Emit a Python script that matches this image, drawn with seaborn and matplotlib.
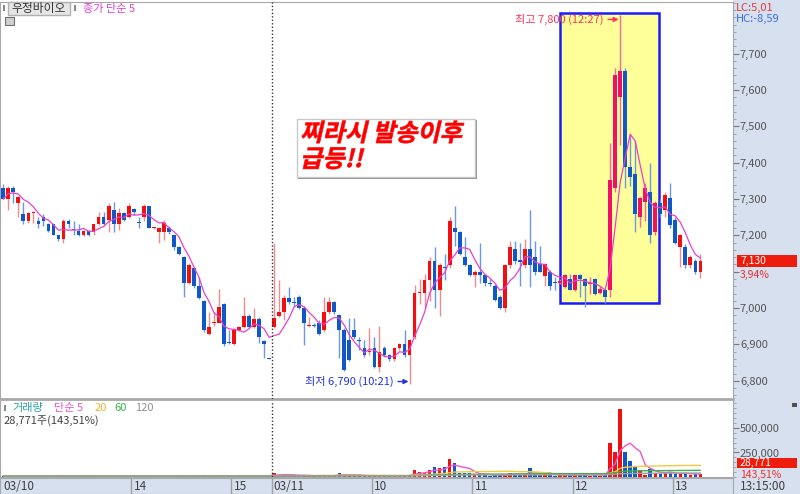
import numpy as np
import pandas as pd
import seaborn as sns
import matplotlib.pyplot as plt
from matplotlib.patches import Rectangle, PathPatch
from matplotlib.textpath import TextPath
from matplotlib.font_manager import FontProperties
from matplotlib.transforms import Affine2D, blended_transform_factory
from matplotlib.ticker import MultipleLocator, FuncFormatter

sns.set_style("white")
plt.rcParams['font.family'] = ['Noto Sans CJK KR', 'DejaVu Sans']

W, H = 800, 494

# 3-minute candles, 03/10 12:42 -> 03/11 13:15
opens = [7330, 7300, 7330, 7290, 7260, 7240, 7262, 7240, 7250, 7230,
         7230, 7200, 7190, 7240, 7218, 7212, 7200, 7212, 7210, 7230,
         7250, 7242, 7270, 7232, 7262, 7250, 7272, 7235, 7250, 7280,
         7220, 7210, 7210, 7220, 7200, 7168, 7140, 7070, 7110, 7060,
         7020, 6928, 6958, 6960, 7011, 6905, 6900, 6940, 6948, 6978,
         6948, 6970, 6910, 6862,
         6948, 6978, 6989, 7028, 7016, 7030, 7000, 6950, 6952, 6959,
         6940, 6989, 7016, 6980, 6940, 6912, 6940, 6912, 6890, 6878,
         6890, 6838, 6890, 6870, 6860, 6890, 6900, 6870, 6920, 7041,
         7041, 7077, 7130, 7050, 7112, 7118, 7220, 7210, 7140, 7118,
         7090, 7100, 7090, 7068, 7060, 7030, 7000, 7118, 7162, 7130,
         7118, 7162, 7140, 7120, 7088, 7100, 7072, 7070, 7058, 7080,
         7050, 7090, 7080, 7066, 7080, 7041, 7050, 7050, 7330, 7580,
         7652, 7388, 7370, 7250, 7292, 7320, 7210, 7290, 7270, 7303,
         7242, 7168, 7168, 7118, 7130, 7100]
highs = [7341, 7335, 7335, 7308, 7292, 7265, 7268, 7250, 7260, 7235,
         7232, 7202, 7245, 7245, 7240, 7230, 7214, 7214, 7232, 7265,
         7265, 7290, 7292, 7275, 7265, 7290, 7275, 7250, 7285, 7282,
         7222, 7222, 7242, 7225, 7202, 7170, 7142, 7125, 7112, 7085,
         7022, 6990, 6990, 7052, 7015, 6940, 6945, 6952, 7030, 6985,
         7000, 6975, 6912, 6863,
         7180, 7077, 7035, 7058, 7030, 7035, 7005, 6976, 6958, 6967,
         7030, 7030, 7020, 6985, 6945, 6972, 6972, 6920, 6912, 6945,
         6920, 6950, 6895, 6875, 6893, 6905, 6940, 6915, 7063, 7080,
         7095, 7140, 7168, 7125, 7150, 7250, 7280, 7212, 7195, 7120,
         7105, 7180, 7095, 7080, 7065, 7035, 7120, 7185, 7185, 7180,
         7190, 7270, 7185, 7170, 7125, 7105, 7085, 7080, 7095, 7095,
         7092, 7095, 7082, 7085, 7083, 7060, 7052, 7454, 7660, 7806,
         7660, 7480, 7460, 7305, 7345, 7400, 7295, 7300, 7320, 7344,
         7250, 7205, 7175, 7145, 7135, 7150]
lows = [7300, 7270, 7290, 7250, 7230, 7235, 7235, 7220, 7225, 7210,
        7200, 7185, 7178, 7220, 7200, 7198, 7198, 7198, 7200, 7228,
        7228, 7210, 7210, 7215, 7240, 7248, 7255, 7220, 7240, 7220,
        7218, 7178, 7187, 7205, 7160, 7145, 7030, 7065, 7055, 7025,
        6935, 6925, 6950, 6958, 6895, 6900, 6898, 6938, 6945, 6945,
        6945, 6905, 6862, 6860,
        6945, 6975, 6967, 7012, 7005, 6998, 6898, 6948, 6948, 6925,
        6935, 6985, 6985, 6862, 6828, 6855, 6915, 6885, 6865, 6870,
        6835, 6825, 6865, 6855, 6855, 6885, 6865, 6790, 6915, 7010,
        7000, 7020, 7000, 6978, 7078, 7110, 7170, 7145, 7115, 7088,
        7058, 7070, 7060, 7062, 7020, 6998, 6990, 7110, 7120, 7060,
        7110, 7058, 7090, 7100, 7060, 7050, 7050, 7065, 7055, 7050,
        7048, 7030, 7003, 7040, 7035, 7038, 7014, 7030, 7320, 7450,
        7330, 7335, 7210, 7223, 7240, 7180, 7200, 7250, 7250, 7220,
        7175, 7113, 7110, 7110, 7095, 7083]
closes = [7300, 7330, 7320, 7305, 7240, 7262, 7265, 7230, 7240, 7212,
          7200, 7190, 7240, 7230, 7215, 7200, 7212, 7200, 7230, 7250,
          7230, 7280, 7230, 7262, 7242, 7280, 7265, 7233, 7280, 7220,
          7220, 7220, 7235, 7210, 7168, 7150, 7070, 7118, 7060, 7028,
          6940, 6948, 6961, 7003, 6900, 6903, 6940, 6948, 6978, 6948,
          6970, 6920, 6900, 6860,
          6972, 6989, 7028, 7016, 7014, 7000, 6959, 6950, 6950, 6928,
          6989, 7016, 6989, 6940, 6830, 6857, 6920, 6910, 6870, 6880,
          6838, 6880, 6870, 6860, 6890, 6900, 6870, 6912, 7041, 7043,
          7077, 7130, 7050, 7118, 7110, 7240, 7210, 7150, 7118, 7090,
          7100, 7090, 7068, 7066, 7022, 7000, 7118, 7168, 7130, 7128,
          7162, 7118, 7100, 7100, 7120, 7060, 7070, 7075, 7090, 7050,
          7090, 7080, 7060, 7068, 7040, 7052, 7030, 7352, 7640, 7652,
          7388, 7360, 7260, 7303, 7330, 7200, 7290, 7260, 7311, 7228,
          7180, 7200, 7118, 7140, 7100, 7130]
# volume, thousand shares
volumes = [12, 8, 6, 10, 9, 7, 8, 6, 10, 12, 9, 20, 10, 8, 7, 9, 6, 8, 10, 9, 7, 11, 8, 7, 9, 6,
           8, 10, 7, 9, 6, 12, 9, 7, 8, 10, 18, 12, 14, 10, 16, 11, 8, 15, 12, 9, 10, 8, 14, 9,
           16, 11, 12, 22,
           38, 20, 25, 18, 12, 15, 22, 10, 8, 14, 20, 15, 12, 45, 30, 18, 12, 10, 14, 12,
           18, 15, 10, 12, 14, 10, 15, 25, 76, 55, 40, 76, 100, 90, 97, 180, 138, 38, 38, 38,
           25, 30, 20, 15, 22, 25, 33, 38, 30, 20, 28, 90, 35, 25, 28, 30, 15, 18, 20, 25,
           22, 18, 30, 12, 20, 15, 25, 347, 260, 694, 260, 163, 111, 70, 17, 80, 45, 30, 50,
           43, 35, 30, 35, 25, 30, 28.771]

hour_starts = [0, 26, 46, 54, 74, 94, 114, 134]
hour_labels = ['03/10', '14', '15', '03/11', '10', '11', '12', '13']
session_break = 54
box_range = (111.0, 130.8)
box_prices = (7014, 7812)

df = pd.DataFrame({'i': np.arange(len(closes)), 'open': opens, 'high': highs,
                   'low': lows, 'close': closes, 'vol': np.array(volumes) * 1000})
df['ma5'] = df['close'].rolling(5, min_periods=1).mean()
for n in (5, 20, 60, 120):
    df[f'v{n}'] = df['vol'].rolling(n, min_periods=1).mean()

up = df['close'] >= df['open']
in_box = (df['i'] >= box_range[0]) & (df['i'] <= box_range[1])
body_col = np.where(up, np.where(in_box, '#f0106a', '#f01010'), '#1058c8')
wick_col = np.where(up, np.where(in_box, '#f06aa0', '#f08c8c'), '#6a98e6')
vol_col = np.where(up, '#f01010', '#1058c8')
last = closes[-1]

fig = plt.figure(figsize=(8, 4.94), dpi=100)
strip = '#d6e0ee'
fig.add_artist(Rectangle((733 / W, 0), 67 / W, 1, transform=fig.transFigure,
                         facecolor=strip, edgecolor='none', zorder=-5))

ax = fig.add_axes([0, 1 - 399 / H, 733 / W, 397 / H])
axv = fig.add_axes([0, 1 - 477 / H, 733 / W, 76 / H], sharex=ax)
axx = fig.add_axes([0, 0, 733 / W, 16 / H], sharex=ax)

# yellow highlight box
ax.add_patch(Rectangle((box_range[0], box_prices[0]), box_range[1] - box_range[0],
                       box_prices[1] - box_prices[0], facecolor='#ffff99',
                       edgecolor='#1a1aff', lw=1.8, zorder=1))

# candles
ax.vlines(df['i'], df['low'], df['high'], colors=wick_col, lw=1, zorder=2)
body_lo = df[['open', 'close']].min(axis=1)
body_h = np.maximum((df['close'] - df['open']).abs(), 3)
ax.bar(df['i'], body_h, bottom=body_lo, width=0.75, color=body_col, lw=0, zorder=3)
sns.lineplot(data=df, x='i', y='ma5', ax=ax, color='#e840cc', lw=0.9, zorder=4)

ax.set_xlim(-0.66, 145.5)
ax.set_ylim(6750, 7842)
ax.yaxis.tick_right()
ax.set_yticks(range(6800, 7800, 100))
ax.yaxis.set_minor_locator(MultipleLocator(20))
fmt = FuncFormatter(lambda v, p: f'{int(round(v)):,}')
# labels under the last-price marker are hidden
price_fmt = FuncFormatter(lambda v, p: '' if abs(v - last) < 45 else f'{int(round(v)):,}')
ax.yaxis.set_major_formatter(price_fmt)
ax.tick_params(axis='y', which='major', length=4, labelsize=8, colors='#777777',
               labelcolor='#555555', pad=1)
ax.tick_params(axis='y', which='minor', length=2, colors='#999999')
ax.tick_params(axis='x', bottom=False, labelbottom=False)
ax.set_xlabel('')
ax.set_ylabel('')
for s in ax.spines.values():
    s.set_color('#a8a8a8')
ax.spines['bottom'].set_linewidth(2)

# volume panel
axv.bar(df['i'], df['vol'], width=0.7, color=vol_col, lw=0, zorder=3)
vcolors = {'v5': '#ee55cc', 'v20': '#f5c842', 'v60': '#3cb04a', 'v120': '#a0a0a0'}
for k, c in vcolors.items():
    sns.lineplot(data=df, x='i', y=k, ax=axv, color=c, lw=1, zorder=4)
axv.set_ylim(0, 775000)
axv.yaxis.tick_right()
axv.set_yticks([250000, 500000])
axv.yaxis.set_minor_locator(MultipleLocator(50000))
axv.yaxis.set_major_formatter(fmt)
axv.tick_params(axis='y', which='major', length=4, labelsize=8, colors='#777777',
                labelcolor='#555555', pad=1)
axv.tick_params(axis='y', which='minor', length=2, colors='#999999')
axv.tick_params(axis='x', bottom=False, labelbottom=False)
axv.set_xlabel('')
axv.set_ylabel('')
for s in axv.spines.values():
    s.set_color('#a8a8a8')
axv.spines['top'].set_visible(False)

for a in (ax, axv):
    a.axvline(session_break - 0.5, color='#333333', ls=(0, (1, 1.5)), lw=1, zorder=5)

# time strip
axx.set_facecolor(strip)
axx.set_yticks([])
axx.tick_params(axis='x', bottom=False, labelbottom=False)
for s in axx.spines.values():
    s.set_color('#a8a8a8')
tx = blended_transform_factory(axx.transData, axx.transAxes)
for k, (s, lab) in enumerate(zip(hour_starts, hour_labels)):
    if k > 0:
        axx.axvline(s - 0.5, color='#a0a0a0', lw=1)
    axx.text(max(s - 0.5, -0.66) + 0.45, 0.45, lab, transform=tx, fontsize=8.5,
             color='#404040', va='center', ha='left')
fig.text(740 / W, 1 - 486 / H, '13:15:00', fontsize=8.5, color='#404040', va='center')

# high / low notes
hi = int(np.argmax(highs))
lo = int(np.argmin(lows))
ax.annotate('최고 7,800 (12:27)', xy=(hi - 0.3, highs[hi] - 12), xytext=(-11, 0),
            textcoords='offset points', ha='right', va='center', fontsize=8,
            color='#ff3355', zorder=6,
            arrowprops=dict(arrowstyle='-|>', color='#ff3355', lw=1, shrinkA=1,
                            shrinkB=0, mutation_scale=7))
ax.annotate('최저 6,790 (10:21)', xy=(lo - 0.2, lows[lo] + 8), xytext=(-11, 0),
            textcoords='offset points', ha='right', va='center', fontsize=8,
            color='#2233dd', zorder=6,
            arrowprops=dict(arrowstyle='-|>', color='#2233dd', lw=1, shrinkA=1,
                            shrinkB=0, mutation_scale=7))

# call-out box
fig.add_artist(Rectangle((298 / W, 1 - 179 / H), 179 / W, 59 / H, transform=fig.transFigure,
                         facecolor='#909090', edgecolor='none', zorder=5))
fig.add_artist(Rectangle((297 / W, 1 - 177 / H), 178 / W, 58 / H, transform=fig.transFigure,
                         facecolor='white', edgecolor='#c8c8c8', lw=1, zorder=5))
fp = FontProperties(family='Noto Sans CJK KR', weight='bold')
for line, base in (('찌라시 발송이후', 141), ('급등!!', 167)):
    path = TextPath((0, 0), line, size=17.5, prop=fp)
    tr = Affine2D().skew_deg(13, 0).scale(fig.dpi / 72).translate(300, H - base)
    fig.add_artist(PathPatch(path, transform=tr, facecolor='#ff0000', edgecolor='#ff0000',
                             lw=0.4, zorder=6))

# right strip labels
fig.text(736 / W, 1 - 8 / H, 'LC:5,01', fontsize=8, color='#e03c3c', va='center')
fig.text(736 / W, 1 - 19 / H, 'HC:-8,59', fontsize=8, color='#3c6ee0', va='center')
bt = blended_transform_factory(ax.transAxes, ax.transData)
ax.add_patch(Rectangle((1 + 4 / 733, last - 16), 60 / 733, 32, transform=bt,
                       facecolor='#ee1c0c', edgecolor='none', clip_on=False, zorder=6))
ax.text(1 + 7 / 733, last, f'{last:,}', transform=bt, fontsize=7.5, color='white',
        va='center', zorder=7)
ax.text(1 + 7 / 733, last - 38, '3,94%', transform=bt, fontsize=7.5, color='#ee3030',
        va='center')
fig.add_artist(Rectangle((737 / W, 1 - 468 / H), 60 / W, 10 / H, transform=fig.transFigure,
                         facecolor='#ee1c0c', edgecolor='none', zorder=6))
fig.text(740 / W, 1 - 463 / H, '28,771', fontsize=7.5, color='white', va='center', zorder=7)
fig.text(740 / W, 1 - 475 / H, '143,51%', fontsize=7.5, color='#ee3030', va='center')
fig.add_artist(Rectangle((792 / W, 1 - 407 / H), 5 / W, 4 / H, transform=fig.transFigure,
                         facecolor='#505050', edgecolor='none', zorder=6))

# legends top-left
fig.add_artist(Rectangle((3 / W, 1 - 11 / H), 2 / W, 6 / H, transform=fig.transFigure,
                         facecolor='#888888', edgecolor='none'))
fig.add_artist(Rectangle((8 / W, 1 - 15 / H), 62 / W, 13 / H, transform=fig.transFigure,
                         facecolor='#e6e6e6', edgecolor='#b0b0b0', lw=1))
fig.text(11 / W, 1 - 8.5 / H, '우정바이오', fontsize=8.5, color='#333333', va='center')
fig.add_artist(Rectangle((74 / W, 1 - 11 / H), 2 / W, 6 / H, transform=fig.transFigure,
                         facecolor='#888888', edgecolor='none'))
fig.text(83 / W, 1 - 9 / H, '종가 단순 5', fontsize=8, color='#e040d0', va='center')
fig.add_artist(Rectangle((5 / W, 1 - 25 / H), 9 / W, 8 / H, transform=fig.transFigure,
                         facecolor='#d0d0d0', edgecolor='#707070', lw=0.8))

fig.add_artist(Rectangle((4 / W, 1 - 411 / H), 2 / W, 6 / H, transform=fig.transFigure,
                         facecolor='#888888', edgecolor='none'))
for txt, x, c in (('거래량', 12, '#2aa0a0'), ('단순 5', 54, '#ee55cc'), ('20', 95, '#f0b030'),
                  ('60', 114, '#3cb04a'), ('120', 135, '#909090')):
    fig.text(x / W, 1 - 408 / H, txt, fontsize=8, color=c, va='center')
fig.text(4 / W, 1 - 421 / H, '28,771주(143,51%)', fontsize=8, color='#404040', va='center')

fig.savefig('out.png', dpi=100)
